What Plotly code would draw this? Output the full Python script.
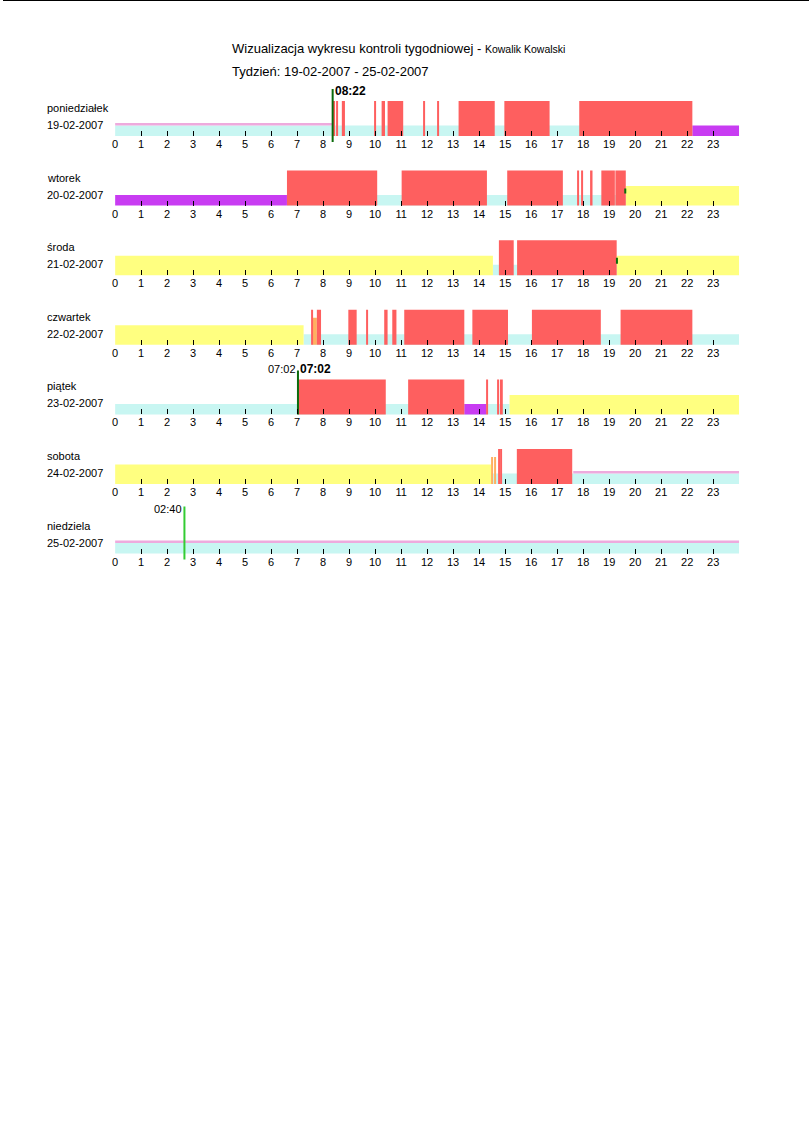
#!/usr/bin/env python3
"""
Wizualizacja wykresu kontroli tygodniowej - one strip per day, 0-24 h
- coloured bands stacked from the baseline (rest / driving / etc.)
- green markers with their hh:mm labels
"""

import plotly.graph_objects as go

# --- Data ---
DAYS = ["poniedziałek", "wtorek", "środa", "czwartek", "piątek", "sobota", "niedziela"]
DATES = ["19-02-2007", "20-02-2007", "21-02-2007", "22-02-2007", "23-02-2007", "24-02-2007", "25-02-2007"]
HOURS = list(range(24))
TITLE = "Wizualizacja wykresu kontroli tygodniowej - "
DRIVER = "Kowalik Kowalski"
WEEK = "Tydzień: 19-02-2007 - 25-02-2007"

# segments: (day index, start hour, end hour)
REST = [(0, 0, 22.2), (1, 6.61, 19.64), (2, 14.53, 19.29), (3, 7.25, 24),
        (4, 0, 15.17), (5, 14.46, 24), (6, 0, 24)]
PINK = [(0, 0, 8.37), (5, 17.62, 24), (6, 0, 24)]
YELLOW = [(1, 19.64, 24), (2, 0, 14.53), (2, 19.29, 24), (3, 0, 7.25),
          (4, 15.17, 24), (5, 0, 14.46)]
PURPLE = [(0, 22.2, 24), (1, 0, 6.61), (4, 13.43, 14.27)]
ORANGE = [(3, 7.59, 7.76), (5, 14.48, 14.53), (5, 14.6, 14.65)]
RED = [(0, 8.38, 8.46), (0, 8.5, 8.56), (0, 8.72, 8.84), (0, 9.99, 10.03), (0, 10.25, 10.38),
       (0, 10.48, 11.08), (0, 11.86, 11.9), (0, 12.39, 12.43), (0, 13.21, 14.6), (0, 14.97, 16.71),
       (0, 17.85, 22.2),
       (1, 6.61, 10.08), (1, 11.02, 14.3), (1, 15.08, 17.22), (1, 17.78, 17.82), (1, 17.95, 17.99),
       (1, 18.29, 18.36), (1, 18.7, 19.22), (1, 19.24, 19.64),
       (2, 14.76, 15.33), (2, 15.46, 19.29),
       (3, 7.54, 7.59), (3, 7.76, 7.92), (3, 8.97, 9.29), (3, 9.66, 9.71), (3, 10.35, 10.48),
       (3, 10.66, 10.82), (3, 11.12, 13.43), (3, 13.74, 15.11), (3, 16.03, 18.68), (3, 19.44, 22.2),
       (4, 7.05, 10.41), (4, 11.27, 13.43), (4, 14.27, 14.34), (4, 14.72, 14.76), (4, 14.8, 14.91),
       (5, 14.73, 14.78), (5, 14.83, 14.88), (5, 15.45, 17.58)]
# markers: (day, hour, bottom, top, left label, right label)
MARKERS = [(0, 8.367, -6, 47, "", "08:22"), (1, 19.62, 12, 17, "", ""), (2, 19.3, 11.5, 17.5, "", ""),
           (4, 7.033, 0, 44, "07:02", "07:02"), (6, 2.667, -6, 47, "02:40", "")]

# --- Style ---
W, H = 809, 1144
X0, X1 = 112.5, 738.9          # pixel span of 0..24 h
BASE0, STEP = 136, 69.6        # baseline of first strip, strip spacing
FONT = "Liberation Sans, Arial, sans-serif"
TICKFONT = "Liberation Sans Narrow, Liberation Sans, Arial, sans-serif"
BANDS = [(REST, "#c8f6f2", 0, 10.5), (PINK, "#eeaadd", 10.5, 2.5), (YELLOW, "#ffff80", 0, 19.5),
         (PURPLE, "#c83cf2", 0, 10.5), (ORANGE, "#ffb060", 0, 27), (RED, "#fe5f5f", 0, 35)]
MARKER_COLORS = {0: "#0b6b0b", 1: "#0b6b0b", 2: "#0b6b0b", 4: "#0b6b0b", 6: "#33cc33"}

def py(px): return 1 - px / H
def ax(i): return "" if i == 0 else str(i + 1)

fig = go.Figure()

# --- Axes, one pair per day ---
axes = {}
for i in range(len(DAYS)):
    b = BASE0 + STEP * i
    axes[f"xaxis{ax(i)}"] = dict(domain=[X0 / W, X1 / W], range=[0, 24], anchor="free", position=py(b),
                                 tickvals=HOURS, ticktext=[str(h) for h in HOURS], ticks="inside", ticklen=5,
                                 tickcolor="black", tickwidth=1, showgrid=False, zeroline=False, showline=False,
                                 tickfont=dict(family=TICKFONT, size=11, color="black"), fixedrange=True)
    axes[f"yaxis{ax(i)}"] = dict(domain=[py(b + 8), py(b - 50)], range=[-8, 50], anchor=f"x{ax(i)}",
                                 visible=False, fixedrange=True)
fig.update_layout(**axes)

# --- Bands ---
for segs, color, lift, height in BANDS:
    for i in range(len(DAYS)):
        seg = [(s, e) for d, s, e in segs if d == i]
        if not seg: continue
        fig.add_trace(go.Bar(orientation="h", base=[s for s, _ in seg], x=[e - s for s, e in seg],
                             y=[lift + height / 2] * len(seg), width=[height] * len(seg),
                             marker=dict(color=color, line=dict(width=0)), showlegend=False, hoverinfo="skip",
                             xaxis=f"x{ax(i)}", yaxis=f"y{ax(i)}"))

# --- Markers ---
annotations = []
for d, t, y0, y1, left, right in MARKERS:
    fig.add_trace(go.Scatter(x=[t, t], y=[y0, y1], mode="lines", line=dict(color=MARKER_COLORS[d], width=2),
                             showlegend=False, hoverinfo="skip", xaxis=f"x{ax(d)}", yaxis=f"y{ax(d)}"))
    if left:
        annotations.append(dict(x=t, y=45, xref=f"x{ax(d)}", yref=f"y{ax(d)}", text=left, showarrow=False,
                                xanchor="right", yanchor="middle", xshift=0, font=dict(size=11)))
    if right:
        annotations.append(dict(x=t, y=45, xref=f"x{ax(d)}", yref=f"y{ax(d)}", text=f"<b>{right}</b>",
                                showarrow=False, xanchor="left", yanchor="middle", xshift=0, font=dict(size=12)))

# --- Day labels and titles ---
for i, (day, date) in enumerate(zip(DAYS, DATES)):
    b = BASE0 + STEP * i
    annotations.append(dict(x=42 / W, y=py(b - 28), xref="paper", yref="paper", text=day, showarrow=False,
                            xanchor="left", yanchor="middle", font=dict(size=11)))
    annotations.append(dict(x=42 / W, y=py(b - 11), xref="paper", yref="paper", text=date, showarrow=False,
                            xanchor="left", yanchor="middle", font=dict(size=11)))
annotations.append(dict(x=228 / W, y=py(49), xref="paper", yref="paper", showarrow=False, xanchor="left",
                        yanchor="middle", font=dict(size=13),
                        text=f"{TITLE}<span style='font-size:10.5px'>{DRIVER}</span>"))
annotations.append(dict(x=228 / W, y=py(71), xref="paper", yref="paper", text=WEEK, showarrow=False,
                        xanchor="left", yanchor="middle", font=dict(size=13)))

fig.update_layout(width=W, height=H, margin=dict(l=0, r=0, t=0, b=0), barmode="overlay",
                  paper_bgcolor="white", plot_bgcolor="rgba(0,0,0,0)",
                  font=dict(family=FONT, color="black"), annotations=annotations,
                  shapes=[dict(type="line", xref="paper", yref="paper", x0=0, x1=1, y0=1, y1=1,
                               line=dict(color="black", width=2))])

fig.write_html("out.html", config={"displayModeBar": False},
               post_script="document.body.style.margin='0';")
